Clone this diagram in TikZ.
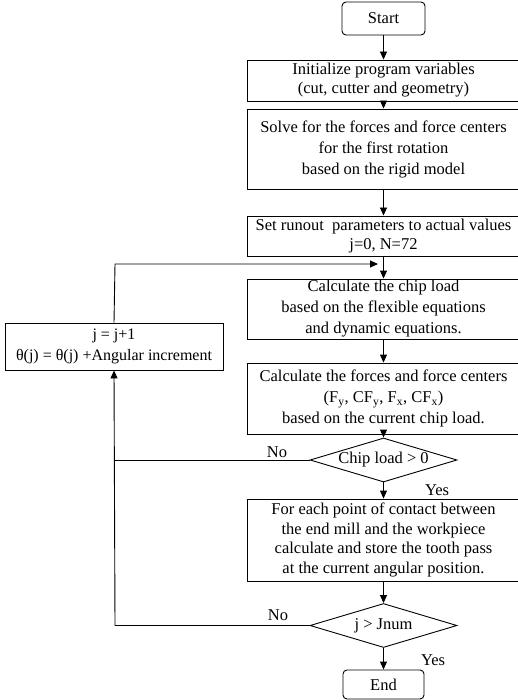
\documentclass[tikz,border=0pt]{standalone}
\usepackage{fontspec}
\setmainfont{Liberation Serif}
\usetikzlibrary{arrows.meta,shapes.geometric}
\begin{document}
\begin{tikzpicture}[x=1pt,y=-1pt,
  every node/.style={font=\fontsize{16.5}{21}\selectfont, inner sep=0pt},
  procbox/.style={draw, line width=0.9pt, minimum width=273pt, align=center},
  termbox/.style={draw, line width=0.9pt, rounded corners=4pt, align=center},
  decbox/.style={draw, line width=0.9pt, diamond, aspect=3.3, minimum width=147pt, minimum height=44pt},
  flow/.style={line width=0.9pt, -{Triangle[length=8pt,width=7pt]}},
  plain/.style={line width=0.9pt}]
\useasboundingbox (0,0) rectangle (518,700);
\node[termbox, minimum width=83pt, minimum height=33pt] (start) at (383.5,18.5) {Start};
\node[procbox, minimum height=41pt, font=\fontsize{16.5}{19}\selectfont] (init) at (383.5,80.5) {Initialize program variables\\(cut, cutter and geometry)};
\node[procbox, minimum height=80pt] (solve) at (383.5,149) {Solve for the forces and force centers\\for the first rotation\\based on the rigid model};
\node[procbox, minimum height=40pt, font=\fontsize{16.5}{19}\selectfont] (runout) at (383.5,236) {Set runout\ \ parameters to actual values\\j=0, N=72};
\node[procbox, minimum height=60pt] (chip) at (383.5,309) {Calculate the chip load\\based on the flexible equations\\and dynamic equations.};
\node[procbox, minimum height=71pt] (forces) at (383.5,398.5) {Calculate the forces and force centers\\(F\textsubscript{y}, CF\textsubscript{y}, F\textsubscript{x}, CF\textsubscript{x})\\based on the current chip load.};
\node[decbox] (d1) at (383.5,460) {Chip load > 0};
\node[procbox, minimum height=82pt, font=\fontsize{16.5}{19.5}\selectfont] (contact) at (383.5,540) {For each point of contact between\\the end mill and the workpiece\\calculate and store the tooth pass\\at the current angular position.};
\node[decbox] (d2) at (383.5,625.5) {j > Jnum};
\node[termbox, minimum width=81pt, minimum height=29pt] (end) at (383.5,684.5) {End};
\node[draw, line width=0.9pt, minimum width=218pt, minimum height=47pt, align=center, font=\fontsize{16}{21}\selectfont] (incr) at (114,346.5) {j = j+1\\θ(j) = θ(j) +Angular increment};
\node (no1) at (277,452) {No};
\node (yes1) at (437,490) {Yes};
\node (no2) at (278,615) {No};
\node (yes2) at (433,660) {Yes};
\coordinate (c1) at (115,460);
\coordinate (c2) at (115,625.5);
\coordinate (c3) at (115,264);
\coordinate (c4) at (378,264);
\draw[flow] (start) -- (init);
\draw[flow] (init) -- (solve);
\draw[flow] (solve) -- (runout);
\draw[flow] (runout) -- (chip);
\draw[flow] (chip) -- (forces);
\draw[flow] (forces) -- (d1);
\draw[flow] (d1) -- (contact);
\draw[flow] (contact) -- (d2);
\draw[flow] (d2) -- (end);
\draw[plain] (d1.west) -- (c1);
\draw[flow] (d2.west) -- (c2) -- (incr.south);
\draw[flow] (incr.north) -- (c3) -- (c4);
\end{tikzpicture}
\end{document}
